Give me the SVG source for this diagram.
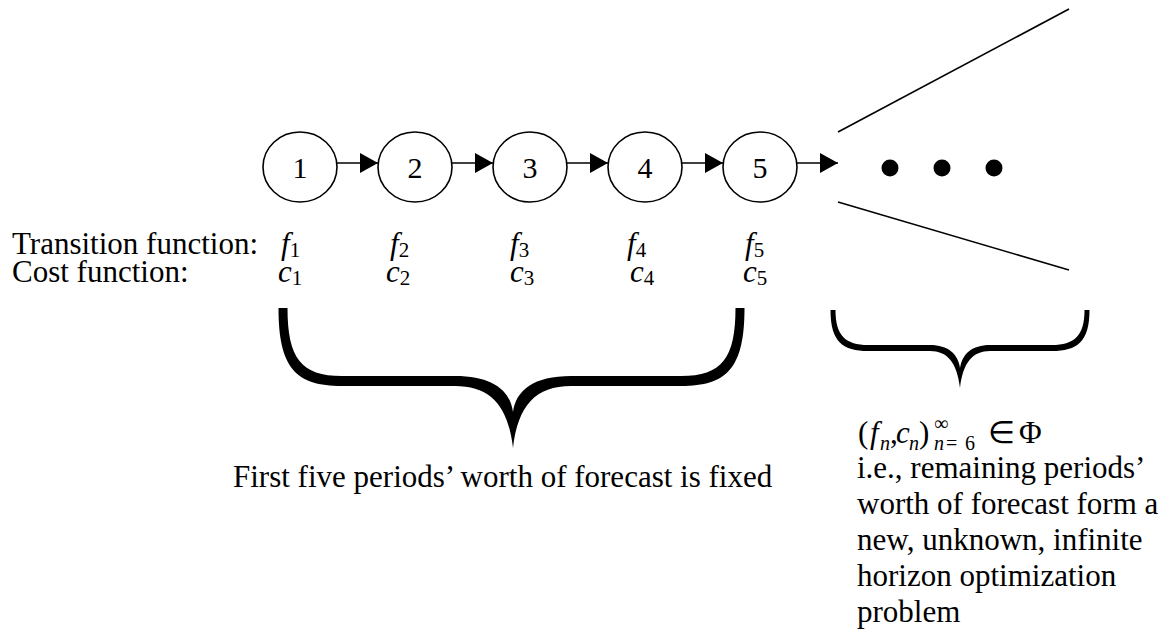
<svg xmlns="http://www.w3.org/2000/svg" width="1175" height="632" viewBox="0 0 1175 632">
<style>
  .t { font-family: "Liberation Serif", "Times New Roman", serif; font-size: 31px; fill: #000; }
  .it { font-style: italic; }
  .sub { font-size: 21px; font-style: normal; }
  .sm { font-size: 20px; }
  .num { font-family: "Liberation Serif", "Times New Roman", serif; font-size: 30px; text-anchor: middle; fill: #000; }
  .node { fill: #fff; stroke: #000; stroke-width: 1.6; }
  .edge { stroke: #000; stroke-width: 1.6; fill: none; }
  .brace { fill: #000; stroke: none; }
</style>
<defs>
  <marker id="ah" markerWidth="18" markerHeight="20" refX="18" refY="10" orient="auto" markerUnits="userSpaceOnUse">
    <path d="M0,0 L18,10 L0,20 Z" fill="#000"/>
  </marker>
</defs>
<rect width="1175" height="632" fill="#fff"/>

<g id="connectors">
  <line class="edge" x1="337" y1="163" x2="378" y2="163" marker-end="url(#ah)"/>
  <line class="edge" x1="452" y1="163" x2="493" y2="163" marker-end="url(#ah)"/>
  <line class="edge" x1="567" y1="163" x2="608" y2="163" marker-end="url(#ah)"/>
  <line class="edge" x1="682" y1="163" x2="723" y2="163" marker-end="url(#ah)"/>
  <line class="edge" x1="797" y1="163" x2="838" y2="163" marker-end="url(#ah)"/>
</g>

<g id="node1"><ellipse class="node" cx="300" cy="167" rx="37" ry="35"/><text class="num" x="300" y="178">1</text></g>
<g id="node2"><ellipse class="node" cx="415" cy="167" rx="37" ry="35"/><text class="num" x="415" y="178">2</text></g>
<g id="node3"><ellipse class="node" cx="530" cy="167" rx="37" ry="35"/><text class="num" x="530" y="178">3</text></g>
<g id="node4"><ellipse class="node" cx="645" cy="167" rx="37" ry="35"/><text class="num" x="645" y="178">4</text></g>
<g id="node5"><ellipse class="node" cx="760" cy="167" rx="37" ry="35"/><text class="num" x="760" y="178">5</text></g>

<g id="horizon">
  <line class="edge" x1="838" y1="132" x2="1069" y2="9"/>
  <line class="edge" x1="838" y1="202" x2="1069" y2="270"/>
  <circle cx="890" cy="168" r="8.5" fill="#000"/>
  <circle cx="942" cy="168" r="8.5" fill="#000"/>
  <circle cx="994" cy="168" r="8.5" fill="#000"/>
</g>

<g id="labels">
  <text class="t" x="12" y="254">Transition function:</text>
  <text class="t" x="12" y="282">Cost function:</text>
  <text class="t it" x="281" y="254">f<tspan class="sub" dy="3">1</tspan></text>
  <text class="t it" x="390" y="254">f<tspan class="sub" dy="3">2</tspan></text>
  <text class="t it" x="510" y="254">f<tspan class="sub" dy="3">3</tspan></text>
  <text class="t it" x="627" y="254">f<tspan class="sub" dy="3">4</tspan></text>
  <text class="t it" x="745" y="254">f<tspan class="sub" dy="3">5</tspan></text>
  <text class="t it" x="278" y="282">c<tspan class="sub" dy="3">1</tspan></text>
  <text class="t it" x="386" y="282">c<tspan class="sub" dy="3">2</tspan></text>
  <text class="t it" x="510" y="282">c<tspan class="sub" dy="3">3</tspan></text>
  <text class="t it" x="630" y="282">c<tspan class="sub" dy="3">4</tspan></text>
  <text class="t it" x="743" y="282">c<tspan class="sub" dy="3">5</tspan></text>
</g>

<g id="brace-fixed">
  <path class="brace" d="M278.5,308 C278.5,368 296,386 342,386 L455,386 C490,386 508,405 513,448 C518,405 536,386 571,386 L681,386 C727,386 744.5,368 744.5,308 L735.5,308 C735.5,358 722,376 681,376 L571,376 C534,376 516,390 513,412 C510,390 492,376 455,376 L342,376 C301,376 287.5,358 287.5,308 Z"/>
  <text class="t" x="233" y="487">First five periods’ worth of forecast is fixed</text>
</g>

<g id="brace-rest">
  <path class="brace" d="M830.5,310 C830.5,342 843,351 868,351 L930,351 C947,351 957,362 960,388 C963,362 973,351 990,351 L1052,351 C1077,351 1089.5,342 1089.5,310 L1084.5,310 C1084.5,336 1074,345 1052,345 L990,345 C972,345 962,354 960,368 C958,354 948,345 930,345 L868,345 C846,345 835.5,336 835.5,310 Z"/>
  <text class="t" x="858" y="443">(</text>
  <text class="t it" x="870" y="443">f</text>
  <text class="t it sm" x="880" y="450">n</text>
  <text class="t" x="890" y="443">,</text>
  <text class="t it" x="896" y="443">c</text>
  <text class="t it sm" x="909" y="450">n</text>
  <text class="t" x="919" y="443">)</text>
  <text class="t sm" x="934" y="430">∞</text>
  <text class="t it sm" x="934" y="450">n</text>
  <text class="t sm" x="946" y="450">=</text>
  <text class="t sm" x="965" y="450">6</text>
  <text class="t" x="988" y="443">∈</text>
  <text class="t" x="1019" y="443">Φ</text>
  <text class="t" x="857" y="478">i.e., remaining periods’</text>
  <text class="t" x="857" y="514">worth of forecast form a</text>
  <text class="t" x="857" y="550">new, unknown, infinite</text>
  <text class="t" x="857" y="586">horizon optimization</text>
  <text class="t" x="857" y="622">problem</text>
</g>
</svg>
